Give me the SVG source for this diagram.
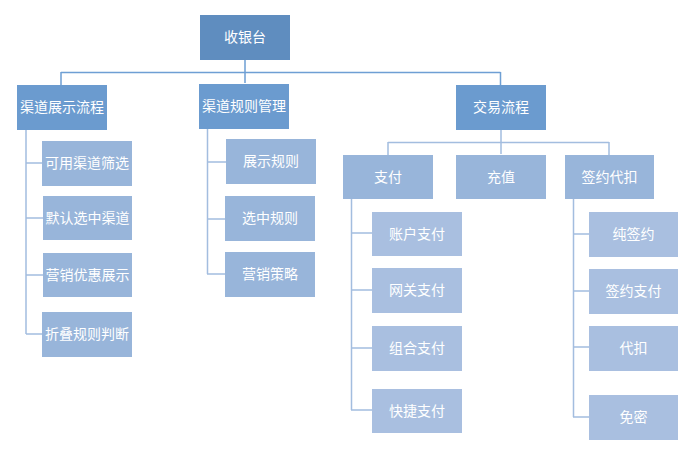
<svg xmlns="http://www.w3.org/2000/svg" width="696" height="452" viewBox="0 0 696 452">
<style>
text{font-family:"Noto Sans CJK SC","Noto Sans",sans-serif;font-size:14px;fill:#ffffff;text-anchor:middle;dominant-baseline:central}
.l0{fill:#5f8dbf}
.l1{fill:#6b9bcf}
.l2{fill:#98b5da}
.l3{fill:#a9bfe0}
.c0{stroke:#6e9fd4;stroke-width:1.5;fill:none}
.c1{stroke:#a3bddf;stroke-width:1.5;fill:none}
</style>
<rect width="696" height="452" fill="#ffffff"/>
<g id="connectors">
<path class="c0" d="M245 60V83M61 72.5H500.5M61 72V85M500.5 72V85"/>
<path class="c1" d="M501 130V154M388 142.5H609M388 142V155M609 142V155"/>
<path class="c1" d="M26 130V334M26 163H42M26 218H43M26 275H43M26 334H42"/>
<path class="c1" d="M207.5 129V274M207 162H226M207 219H225M207 274H225"/>
<path class="c1" d="M351.5 199V410M351 233H372M351 290H372M351 348H372M351 410H372"/>
<path class="c1" d="M573.5 199V417M573 234H589M573 291H589M573 347H589M573 417H589"/>
</g>
<g id="n-root"><rect class="l0" x="200" y="15" width="90" height="45"/><text x="245" y="36">收银台</text></g>
<g id="n-qdzs"><rect class="l1" x="17" y="85" width="90" height="45"/><text x="62" y="106">渠道展示流程</text></g>
<g id="n-qdgz"><rect class="l1" x="199" y="84" width="90" height="45"/><text x="244" y="105">渠道规则管理</text></g>
<g id="n-jylc"><rect class="l1" x="456" y="85" width="90" height="45"/><text x="501" y="106">交易流程</text></g>
<g id="n-zf"><rect class="l2" x="343" y="155" width="90" height="44"/><text x="388" y="175.5">支付</text></g>
<g id="n-cz"><rect class="l2" x="456" y="155" width="90" height="44"/><text x="501" y="175.5">充值</text></g>
<g id="n-qydk"><rect class="l2" x="565" y="155" width="89" height="44"/><text x="609.5" y="175.5">签约代扣</text></g>
<g id="n-kyqd"><rect class="l2" x="42" y="141" width="90" height="45"/><text x="87" y="162">可用渠道筛选</text></g>
<g id="n-mrxz"><rect class="l2" x="43" y="196" width="89" height="44"/><text x="87.5" y="216.5">默认选中渠道</text></g>
<g id="n-yxyh"><rect class="l2" x="43" y="253" width="89" height="44"/><text x="87.5" y="273.5">营销优惠展示</text></g>
<g id="n-zdgz"><rect class="l2" x="42" y="312" width="90" height="45"/><text x="87" y="333">折叠规则判断</text></g>
<g id="n-zsgz"><rect class="l2" x="226" y="139" width="90" height="45"/><text x="271" y="160">展示规则</text></g>
<g id="n-xzgz"><rect class="l2" x="225" y="196" width="90" height="45"/><text x="270" y="217">选中规则</text></g>
<g id="n-yxcl"><rect class="l2" x="225" y="252" width="90" height="45"/><text x="270" y="273">营销策略</text></g>
<g id="n-zhzf"><rect class="l3" x="372" y="212" width="90" height="44"/><text x="417" y="232.5">账户支付</text></g>
<g id="n-wgzf"><rect class="l3" x="372" y="268" width="90" height="45"/><text x="417" y="289">网关支付</text></g>
<g id="n-zuhe"><rect class="l3" x="372" y="326" width="90" height="45"/><text x="417" y="347">组合支付</text></g>
<g id="n-kjzf"><rect class="l3" x="372" y="389" width="90" height="44"/><text x="417" y="409.5">快捷支付</text></g>
<g id="n-cqy"><rect class="l3" x="589" y="212" width="89" height="45"/><text x="633.5" y="233">纯签约</text></g>
<g id="n-qyzf"><rect class="l3" x="589" y="269" width="89" height="45"/><text x="633.5" y="290">签约支付</text></g>
<g id="n-dk"><rect class="l3" x="589" y="326" width="89" height="45"/><text x="633.5" y="347">代扣</text></g>
<g id="n-mm"><rect class="l3" x="589" y="395" width="89" height="45"/><text x="633.5" y="416">免密</text></g>
</svg>
